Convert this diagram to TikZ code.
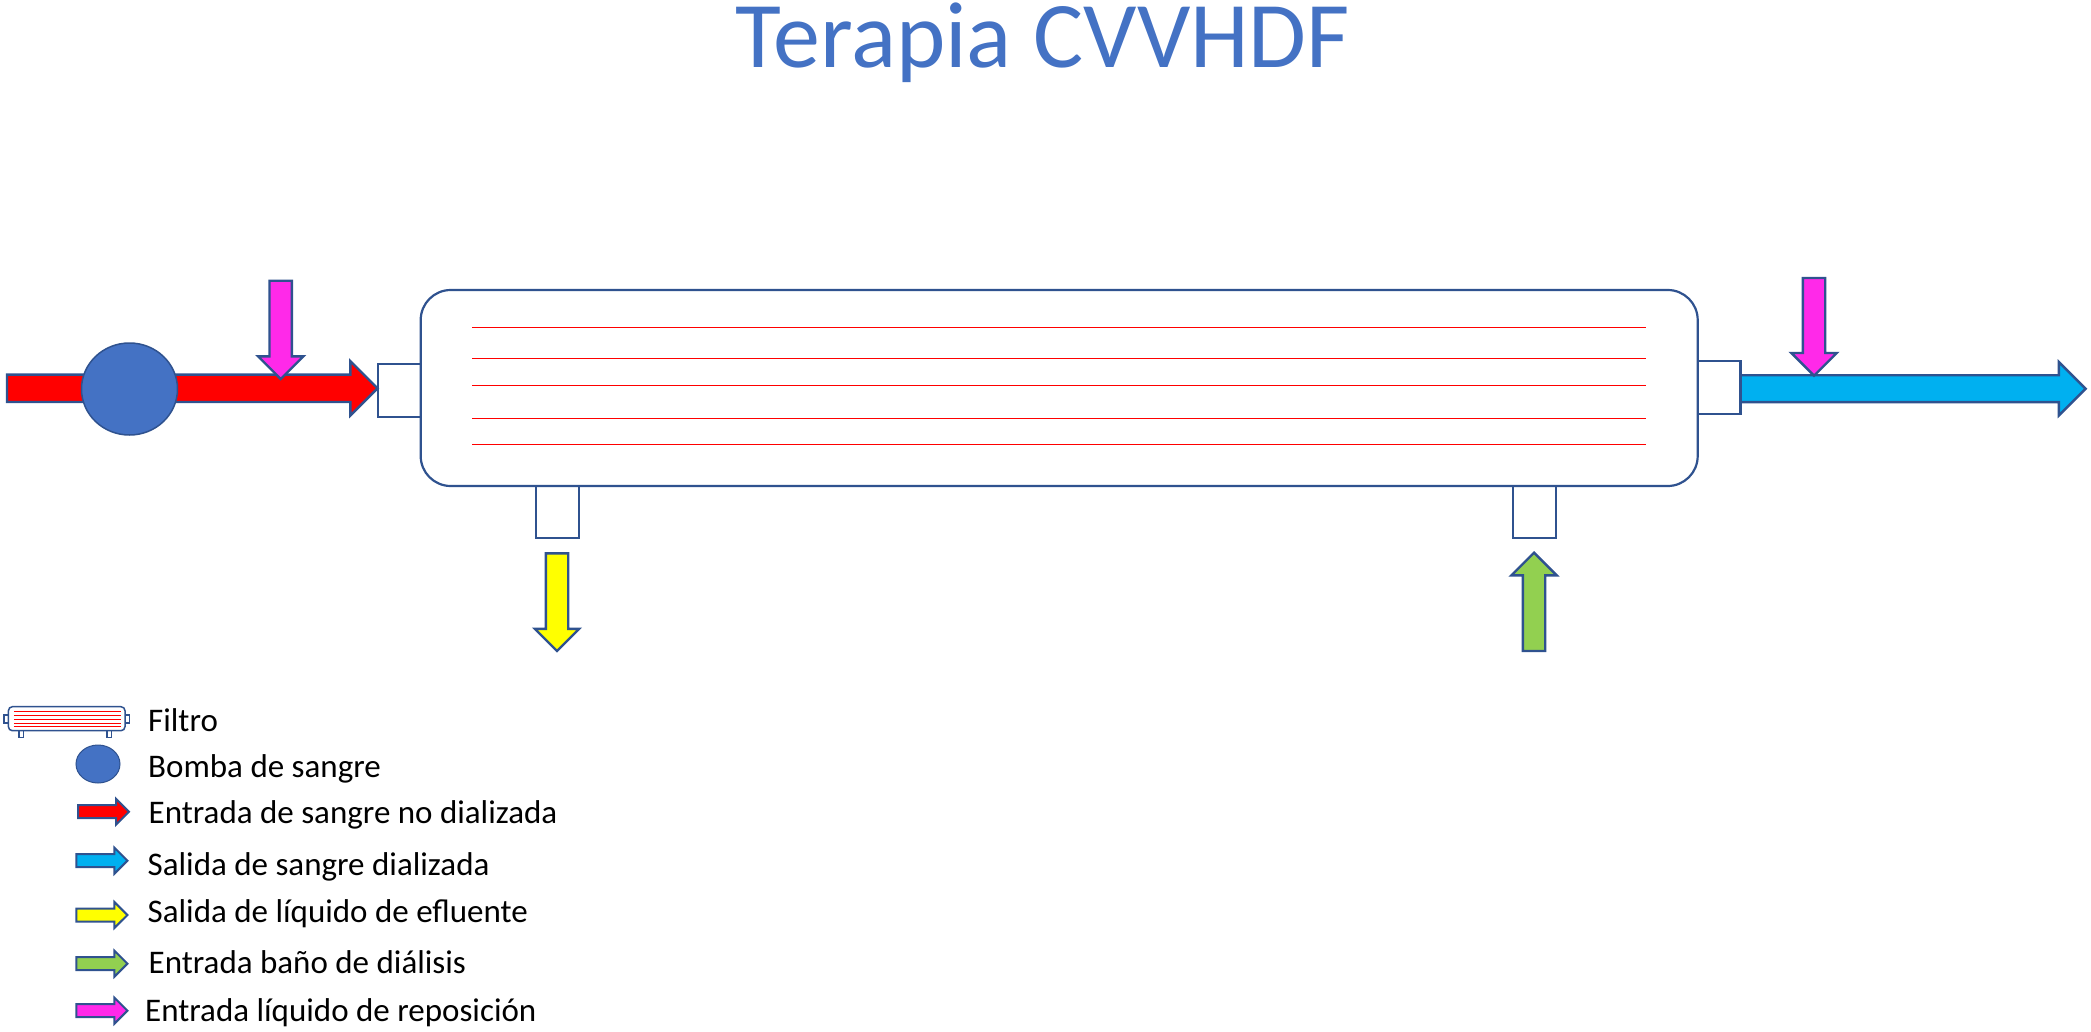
\documentclass[tikz,border=0pt]{standalone}
\usepackage{fontspec}
\setmainfont{Carlito}
\usetikzlibrary{shapes.arrows,shapes.geometric}
\definecolor{linea}{HTML}{2F528F}
\definecolor{azul}{HTML}{4472C4}
\definecolor{celeste}{HTML}{00B0F0}
\definecolor{magenta2}{HTML}{FF29E9}
\definecolor{verde}{HTML}{92D050}
\definecolor{amarillo}{HTML}{FFFF00}
\tikzset{
	flecha/.style={single arrow,draw=linea,line width=2.4pt,outer sep=0pt,single arrow tip angle=90,single arrow head indent=0pt},
	larga/.style 2 args={flecha,inner sep=#1/2,single arrow head extend=(#2-#1)/2},
	chica/.style={flecha,line width=2pt,inner sep=5.5,minimum height=51,single arrow head extend=6.5,anchor=tip},
	caja/.style={rectangle,draw=linea,fill=white,line width=2.2pt,inner sep=0pt,outer sep=0pt},
	fibra/.style={red,line width=1pt},
	bola/.style={ellipse,draw=linea,fill=azul,inner sep=0pt},
	leyenda/.style={anchor=base west,inner sep=0pt,font=\fontsize{33}{40}\selectfont}
	}
\begin{document}
\begin{tikzpicture}[x=1pt,y=-1pt]
		\useasboundingbox (0,0) rectangle (2091,1031);
		\node[anchor=base,inner sep=0pt,text=azul,font=\fontsize{94}{104}\selectfont] (titulo) at (1043,67) {Terapia CVVHDF};
		\node[caja,minimum width=43,minimum height=53,anchor=north west] (pizq) at (377.6,364) {};
		\node[caja,minimum width=43,minimum height=53,anchor=north west] (pder) at (1697.5,361) {};
		\node[caja,minimum width=43,minimum height=52,anchor=north west] (pefl) at (535.8,486) {};
		\node[caja,minimum width=43,minimum height=52,anchor=north west] (pban) at (1512.7,486) {};
		\node[caja,rounded corners=30,minimum width=1277,minimum height=196,anchor=north west] (filtro) at (420.7,290) {};
		\foreach \y [count=\i] in {327,358,385.3,418.7,444.3}{
			\coordinate (a\i) at (472,\y);
			\coordinate (b\i) at (1645.6,\y);
			\draw[fibra] (a\i) -- (b\i);
		}
		\node[larga={25}{52},fill=red,minimum height=370.6,anchor=tip] (sangre) at (377.6,388.3) {};
		\node[bola,line width=1.5pt,minimum width=96,minimum height=92] (bomba) at (129.5,389) {};
		\node[larga={20}{43},fill=magenta2,minimum height=98.3,shape border rotate=270,anchor=tip] (rep1) at (280.7,379) {};
		\node[larga={24.5}{51},fill=celeste,minimum height=345,anchor=tip] (salida) at (2085.6,388.7) {};
		\node[larga={20}{43},fill=magenta2,minimum height=97.7,shape border rotate=270,anchor=tip] (rep2) at (1814,375.7) {};
		\node[larga={20}{42},fill=amarillo,minimum height=97.7,shape border rotate=270,anchor=tip] (efluente) at (557,651) {};
		\node[larga={20}{43},fill=verde,minimum height=98.3,shape border rotate=90,anchor=tip] (bano) at (1534,552.7) {};
		\node[caja,line width=1.5pt,minimum width=4.2,minimum height=8,anchor=east] (mi) at (8.4,719) {};
		\node[caja,line width=1.5pt,minimum width=4.4,minimum height=8,anchor=west] (md) at (125,719) {};
		\node[caja,line width=1.5pt,minimum width=4.7,minimum height=7,anchor=north] (ma) at (21.3,730.7) {};
		\node[caja,line width=1.5pt,minimum width=4.7,minimum height=7,anchor=north] (mb) at (109.3,730.7) {};
		\node[caja,line width=1.5pt,rounded corners=4,minimum width=116.6,minimum height=24,anchor=north west] (mfiltro) at (8.4,706.7) {};
		\foreach \y [count=\i] in {711.7,715.3,719.3,723.3,726.3}{
			\coordinate (c\i) at (13.8,\y);
			\coordinate (d\i) at (120.5,\y);
			\draw[fibra,line width=1.5pt] (c\i) -- (d\i);
		}
		\node[bola,line width=1pt,minimum width=44,minimum height=38] (mbomba) at (98,764) {};
		\node[chica,fill=red] (msangre) at (129,811.7) {};
		\node[chica,fill=celeste] (msalida) at (127.4,860.7) {};
		\node[chica,fill=amarillo] (mefluente) at (127.4,915) {};
		\node[chica,fill=verde] (mbano) at (127.4,963.7) {};
		\node[chica,fill=magenta2] (mrep) at (127.4,1010.7) {};
		\node[leyenda] (t1) at (148,731) {Filtro};
		\node[leyenda] (t2) at (148,777.7) {Bomba de sangre};
		\node[leyenda] (t3) at (148.5,823.7) {Entrada de sangre no dializada};
		\node[leyenda] (t4) at (147.5,875) {Salida de sangre dializada};
		\node[leyenda] (t5) at (147.5,922) {Salida de líquido de efluente};
		\node[leyenda] (t6) at (148.5,973.7) {Entrada baño de diálisis};
		\node[leyenda] (t7) at (145,1021) {Entrada líquido de reposición};
\end{tikzpicture}
\end{document}
